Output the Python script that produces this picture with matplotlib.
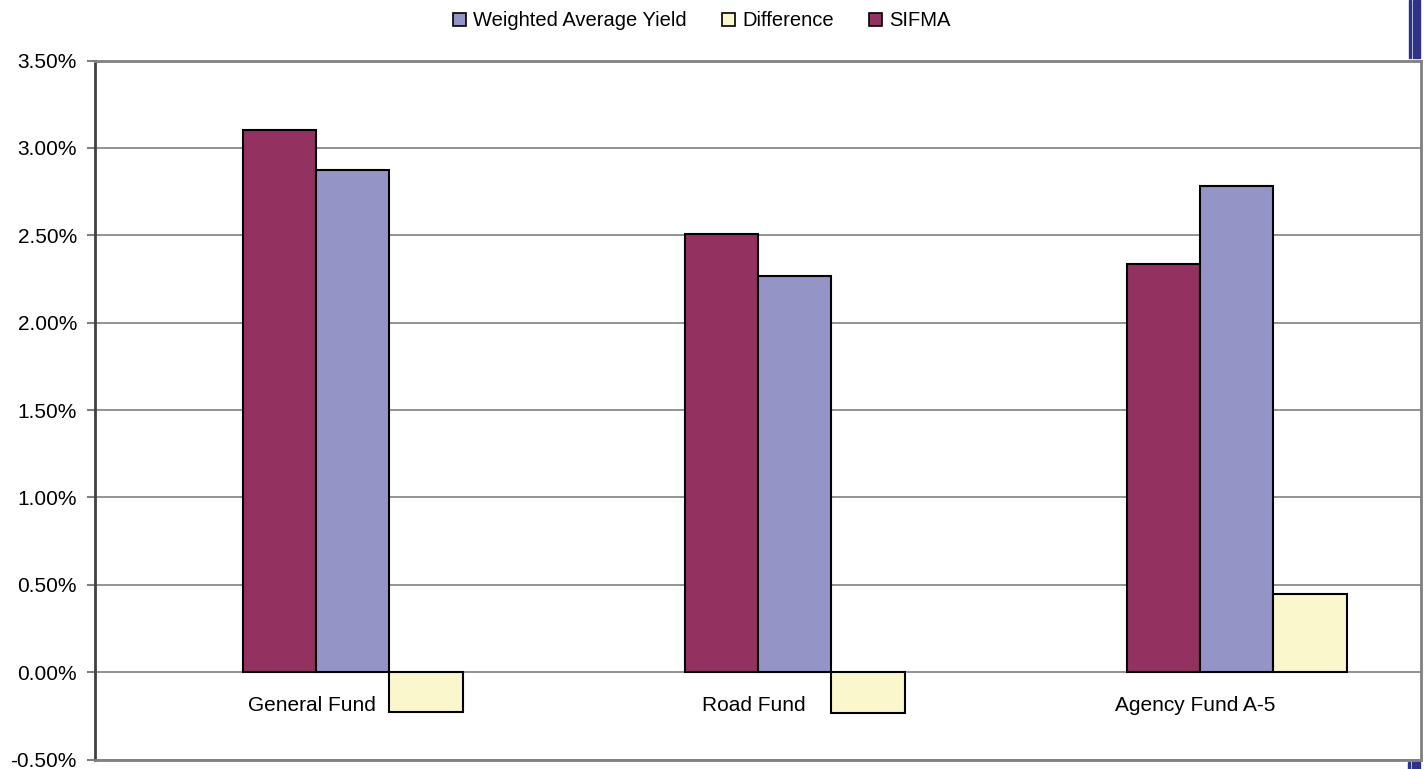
import matplotlib
matplotlib.use("Agg")
import matplotlib.pyplot as plt
from matplotlib.patches import Patch, Rectangle
from matplotlib.ticker import FuncFormatter

plt.rcParams['font.family'] = ['Liberation Sans', 'DejaVu Sans']

categories = ["General Fund", "Road Fund", "Agency Fund A-5"]
sifma = [3.10, 2.51, 2.335]
weighted_avg_yield = [2.872, 2.267, 2.784]
difference = [-0.228, -0.235, 0.449]
y_ticks = [-0.5, 0.0, 0.5, 1.0, 1.5, 2.0, 2.5, 3.0, 3.5]

c_sifma = "#933260"
c_way = "#9494C7"
c_diff = "#FAF7CD"

W, H = 1426, 769
fig = plt.figure(figsize=(W / 100, H / 100), dpi=100)
ax = fig.add_axes([95 / W, (H - 759.5) / H, 1326 / W, 699 / H])

x = list(range(len(categories)))
w = 0.166
bar_kw = dict(width=w, edgecolor="black", linewidth=1.5, zorder=3)
ax.bar([i - 0.5 * w for i in x], sifma, color=c_sifma, **bar_kw)
ax.bar([i + 0.5 * w for i in x], weighted_avg_yield, color=c_way, **bar_kw)
ax.bar([i + 1.5 * w for i in x], difference, color=c_diff, **bar_kw)

ax.set_xlim(-0.5, len(categories) - 0.5)
ax.set_ylim(-0.5, 3.5)
ax.set_yticks(y_ticks)
ax.yaxis.set_major_formatter(FuncFormatter(lambda v, p: f"{v:.2f}%"))
ax.tick_params(axis="y", labelsize=15, length=6, width=1.5, color="#808080", pad=7)
ax.set_xticks([])
ax.grid(axis="y", color="#808080", linewidth=1.2, zorder=0)
ax.set_axisbelow(True)

ax.spines["left"].set_color("#404040")
ax.spines["left"].set_linewidth(2)
for sp in ["bottom", "right", "top"]:
    ax.spines[sp].set_color("#808080")
    ax.spines[sp].set_linewidth(2)

for i, name in enumerate(categories):
    ax.text(i - 0.01, -0.19, name, ha="center", va="center", fontsize=15)

handles = [Patch(facecolor=c_way, edgecolor="black", linewidth=1.2),
           Patch(facecolor=c_diff, edgecolor="black", linewidth=1.2),
           Patch(facecolor=c_sifma, edgecolor="black", linewidth=1.2)]
labels = ["Weighted Average Yield", "Difference", "SIFMA"]
fig.legend(handles, labels, loc="center", bbox_to_anchor=(702 / W, 1 - 21 / H),
           ncol=3, frameon=False, fontsize=14.5, handlelength=0.65, handleheight=0.65,
           handletextpad=0.35, columnspacing=1.75, borderpad=0)

# right-edge decoration
navy = "#2E3388"
for (x0, y0, ww, hh) in [(1409, 0, 1.5, 58), (1413, 0, 7, 58),
                         (1408, 762, 1.5, 7), (1412, 762, 8, 7)]:
    fig.patches.append(Rectangle((x0 / W, 1 - (y0 + hh) / H), ww / W, hh / H,
                                 transform=fig.transFigure, color=navy, zorder=10))

fig.savefig("out.png", dpi=100)
